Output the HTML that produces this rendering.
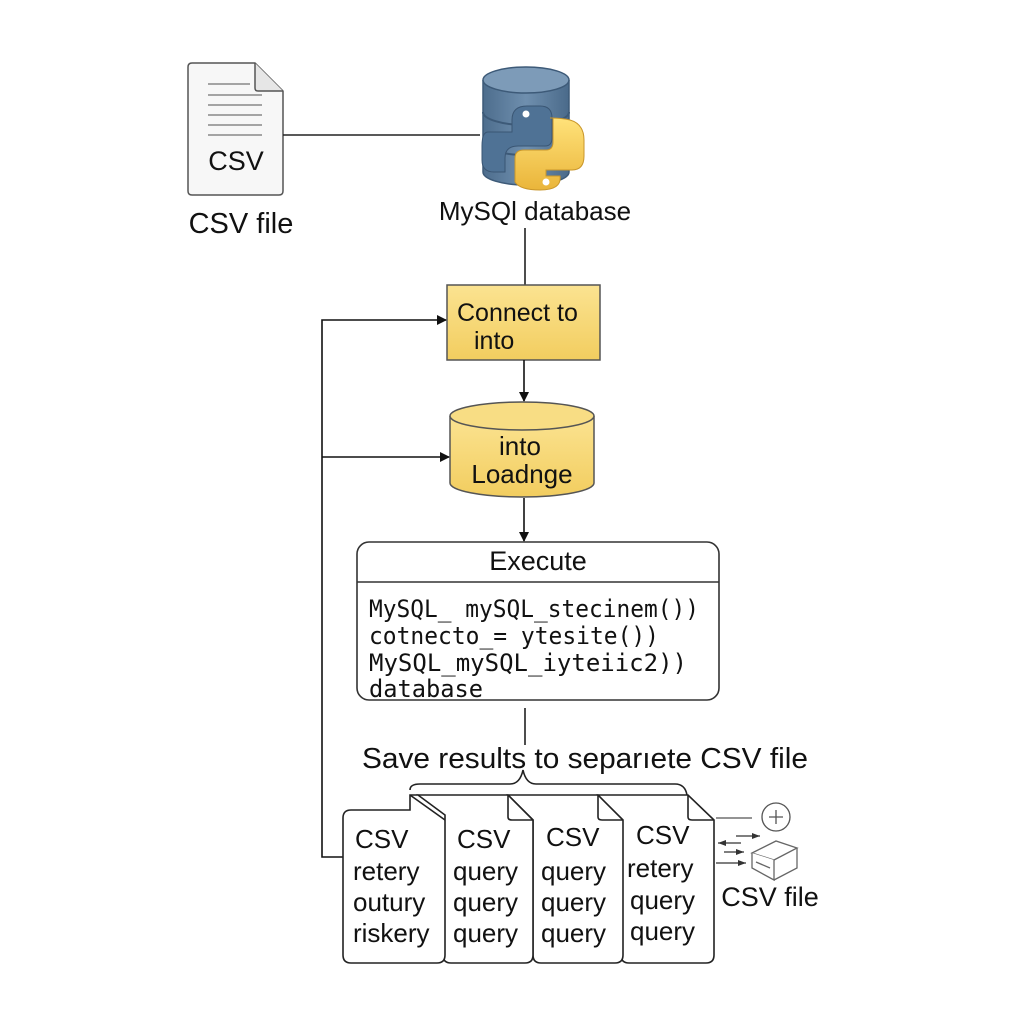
<!DOCTYPE html>
<html><head><meta charset="utf-8"><style>
html,body{margin:0;padding:0;background:#fff;width:1024px;height:1024px;overflow:hidden}
svg{display:block}
text{font-family:"Liberation Sans",sans-serif;fill:#111}
.m{font-family:"DejaVu Sans Mono","Liberation Mono",monospace}
</style></head><body>
<svg width="1024" height="1024" viewBox="0 0 1024 1024" xmlns="http://www.w3.org/2000/svg">
<defs>
<marker id="a" markerWidth="10" markerHeight="10" refX="9" refY="5" orient="auto" markerUnits="userSpaceOnUse"><path d="M0,0 L10,5 L0,10 z" fill="#111"/></marker>
<marker id="s" markerWidth="8" markerHeight="6" refX="8" refY="3" orient="auto" markerUnits="userSpaceOnUse"><path d="M0,0 L8,3 L0,6 z" fill="#333"/></marker>
<linearGradient id="y" x1="0" x2="0" y1="0" y2="1"><stop offset="0" stop-color="#fbe391"/><stop offset="1" stop-color="#f2cd5f"/></linearGradient>
<linearGradient id="b" x1="0" x2="1"><stop offset="0" stop-color="#4d6d8d"/><stop offset=".5" stop-color="#6f8fae"/><stop offset="1" stop-color="#4a6a8a"/></linearGradient>
<linearGradient id="py" x1="0" x2="0" y1="0" y2="1"><stop offset="0" stop-color="#ffe27a"/><stop offset="1" stop-color="#eab53a"/></linearGradient>
</defs>

<path d="M192,63 H255 L283,91 V191 Q283,195 279,195 H192 Q188,195 188,191 V67 Q188,63 192,63 Z" fill="#f7f7f7" stroke="#555" stroke-width="1.5"/>
<path d="M255,63 V88 Q255,91 258,91 H283" fill="#e6e6e6" stroke="#555" stroke-width="1.5"/>
<g stroke="#888" stroke-width="1.5">
<line x1="208" y1="84" x2="250" y2="84"/><line x1="208" y1="95" x2="262" y2="95"/><line x1="208" y1="105" x2="262" y2="105"/><line x1="208" y1="115" x2="262" y2="115"/><line x1="208" y1="125" x2="262" y2="125"/><line x1="208" y1="135" x2="262" y2="135"/>
</g>
<text x="236" y="170" font-size="27" text-anchor="middle">CSV</text>
<text x="241" y="233" font-size="29" text-anchor="middle">CSV file</text>
<line x1="283" y1="135" x2="480" y2="135" stroke="#222" stroke-width="1.6"/>

<path d="M483,80 V172 A43,13 0 0 0 569,172 V80" fill="url(#b)" stroke="#3d5a78" stroke-width="1.5"/>
<ellipse cx="526" cy="80" rx="43" ry="13" fill="#7d9bb8" stroke="#3d5a78" stroke-width="1.5"/>
<path d="M483,112 A43,13 0 0 0 569,112" fill="none" stroke="#3d5a78" stroke-width="2"/>
<path d="M483,142 A43,13 0 0 0 569,142" fill="none" stroke="#3d5a78" stroke-width="2"/>
<path d="M527,106 Q512,106 512,120 V132 H488 Q482,132 482,146 V160 Q482,172 494,172 H505 V158 Q505,146 518,146 H545 Q552,146 552,138 V118 Q552,106 540,106 Z" fill="#4f7295" stroke="#3a5674" stroke-width="1"/>
<circle cx="526" cy="114" r="3.5" fill="#fff"/>
<path d="M550,118 Q562,118 570,120 Q584,124 584,140 V156 Q584,170 572,170 H546 V176 H560 Q562,190 540,190 Q520,190 515,182 V158 Q515,150 524,150 H546 Q553,150 553,142 V118 Z" fill="url(#py)" stroke="#c9962a" stroke-width="1"/>
<circle cx="546" cy="182" r="3.5" fill="#fff"/>
<text x="535" y="220" font-size="26" text-anchor="middle">MySQl database</text>
<line x1="525" y1="228" x2="525" y2="285" stroke="#222" stroke-width="1.6"/>

<rect x="447" y="285" width="153" height="75" fill="url(#y)" stroke="#555" stroke-width="1.5"/>
<text x="457" y="321" font-size="25">Connect to</text>
<text x="474" y="349" font-size="25">into</text>
<line x1="524" y1="360" x2="524" y2="401" stroke="#111" stroke-width="1.6" marker-end="url(#a)"/>

<path d="M450,416 V483 A72,14 0 0 0 594,483 V416" fill="url(#y)" stroke="#555" stroke-width="1.5"/>
<ellipse cx="522" cy="416" rx="72" ry="14" fill="#f8dd84" stroke="#555" stroke-width="1.5"/>
<text x="520" y="455" font-size="26" text-anchor="middle">into</text>
<text x="522" y="483" font-size="26" text-anchor="middle">Loadnge</text>
<line x1="524" y1="498" x2="524" y2="541" stroke="#111" stroke-width="1.6" marker-end="url(#a)"/>

<rect x="357" y="542" width="362" height="158" rx="12" fill="#fff" stroke="#333" stroke-width="1.6"/>
<line x1="357" y1="582" x2="719" y2="582" stroke="#333" stroke-width="1.5"/>
<text x="538" y="570" font-size="27" text-anchor="middle">Execute</text>
<text class="m" x="369" y="617" font-size="24" textLength="330" lengthAdjust="spacingAndGlyphs">MySQL_ mySQL_stecinem())</text>
<text class="m" x="369" y="644" font-size="24" textLength="290" lengthAdjust="spacingAndGlyphs">cotnecto_= ytesite())</text>
<text class="m" x="369" y="671" font-size="24" textLength="318" lengthAdjust="spacingAndGlyphs">MySQL_mySQL_iyteiic2))</text>
<text class="m" x="369" y="697" font-size="24" textLength="114" lengthAdjust="spacingAndGlyphs">database</text>
<line x1="525" y1="708" x2="525" y2="745" stroke="#222" stroke-width="1.6"/>

<text x="585" y="768" font-size="29" text-anchor="middle" textLength="446" lengthAdjust="spacingAndGlyphs">Save results to separıete CSV file</text>
<path d="M410,790 Q410,784 420,784 H510 Q520,784 523,770 Q526,784 536,784 H675 Q685,784 687,795" fill="none" stroke="#222" stroke-width="1.6"/>

<polyline points="343,857 322,857 322,320 446,320" fill="none" stroke="#111" stroke-width="1.6" marker-end="url(#a)"/>
<line x1="322" y1="457" x2="449" y2="457" stroke="#111" stroke-width="1.6" marker-end="url(#a)"/>

<g stroke="#222" stroke-width="1.6" fill="#fff">
<path d="M598,795 H688 L714,820 V955 Q714,963 706,963 H629 Q621,963 621,955 V820 Z"/>
<path d="M688,795 V817 Q688,820 692,820 H714" fill="none"/>
<path d="M508,795 H598 L623,820 V955 Q623,963 615,963 H541 Q533,963 533,955 V820 Z"/>
<path d="M598,795 V817 Q598,820 602,820 H623" fill="none"/>
<path d="M418,795 H508 L533,820 V955 Q533,963 525,963 H451 Q443,963 443,955 V820 Z"/>
<path d="M508,795 V817 Q508,820 512,820 H533" fill="none"/>
<path d="M410,810 V795 H418 L445,815 V955 Q445,963 437,963 H351 Q343,963 343,955 V818 Q343,810 351,810 Z"/>
<path d="M410,795 L445,820" fill="none"/>
</g>
<g font-size="26">
<text x="355" y="848">CSV</text><text x="353" y="880">retery</text><text x="353" y="911">outury</text><text x="353" y="942">riskery</text>
<text x="457" y="848">CSV</text><text x="453" y="880">query</text><text x="453" y="911">query</text><text x="453" y="942">query</text>
<text x="546" y="846">CSV</text><text x="541" y="880">query</text><text x="541" y="911">query</text><text x="541" y="942">query</text>
<text x="636" y="844">CSV</text><text x="627" y="877">retery</text><text x="630" y="909">query</text><text x="630" y="940">query</text>
</g>

<line x1="716" y1="818" x2="752" y2="818" stroke="#555" stroke-width="1.3"/>
<circle cx="776" cy="817" r="14" fill="#fff" stroke="#555" stroke-width="1.3"/>
<path d="M776,810 V824 M769,817 H783" stroke="#555" stroke-width="1.3"/>
<line x1="736" y1="836" x2="760" y2="836" stroke="#333" stroke-width="1.2" marker-end="url(#s)"/>
<line x1="741" y1="843" x2="718" y2="843" stroke="#333" stroke-width="1.2" marker-end="url(#s)"/>
<line x1="724" y1="852" x2="744" y2="852" stroke="#333" stroke-width="1.2" marker-end="url(#s)"/>
<line x1="716" y1="863" x2="746" y2="863" stroke="#333" stroke-width="1.2" marker-end="url(#s)"/>
<g fill="#fff" stroke="#666" stroke-width="1.3">
<path d="M752,853 L776,841 L797,848 L774,860 Z"/>
<path d="M752,853 V868 L774,880 V860"/>
<path d="M774,880 L797,868 V848"/>
<path d="M756,862 L770,868"/>
</g>
<text x="770" y="906" font-size="27" text-anchor="middle">CSV file</text>
</svg>
</body></html>
